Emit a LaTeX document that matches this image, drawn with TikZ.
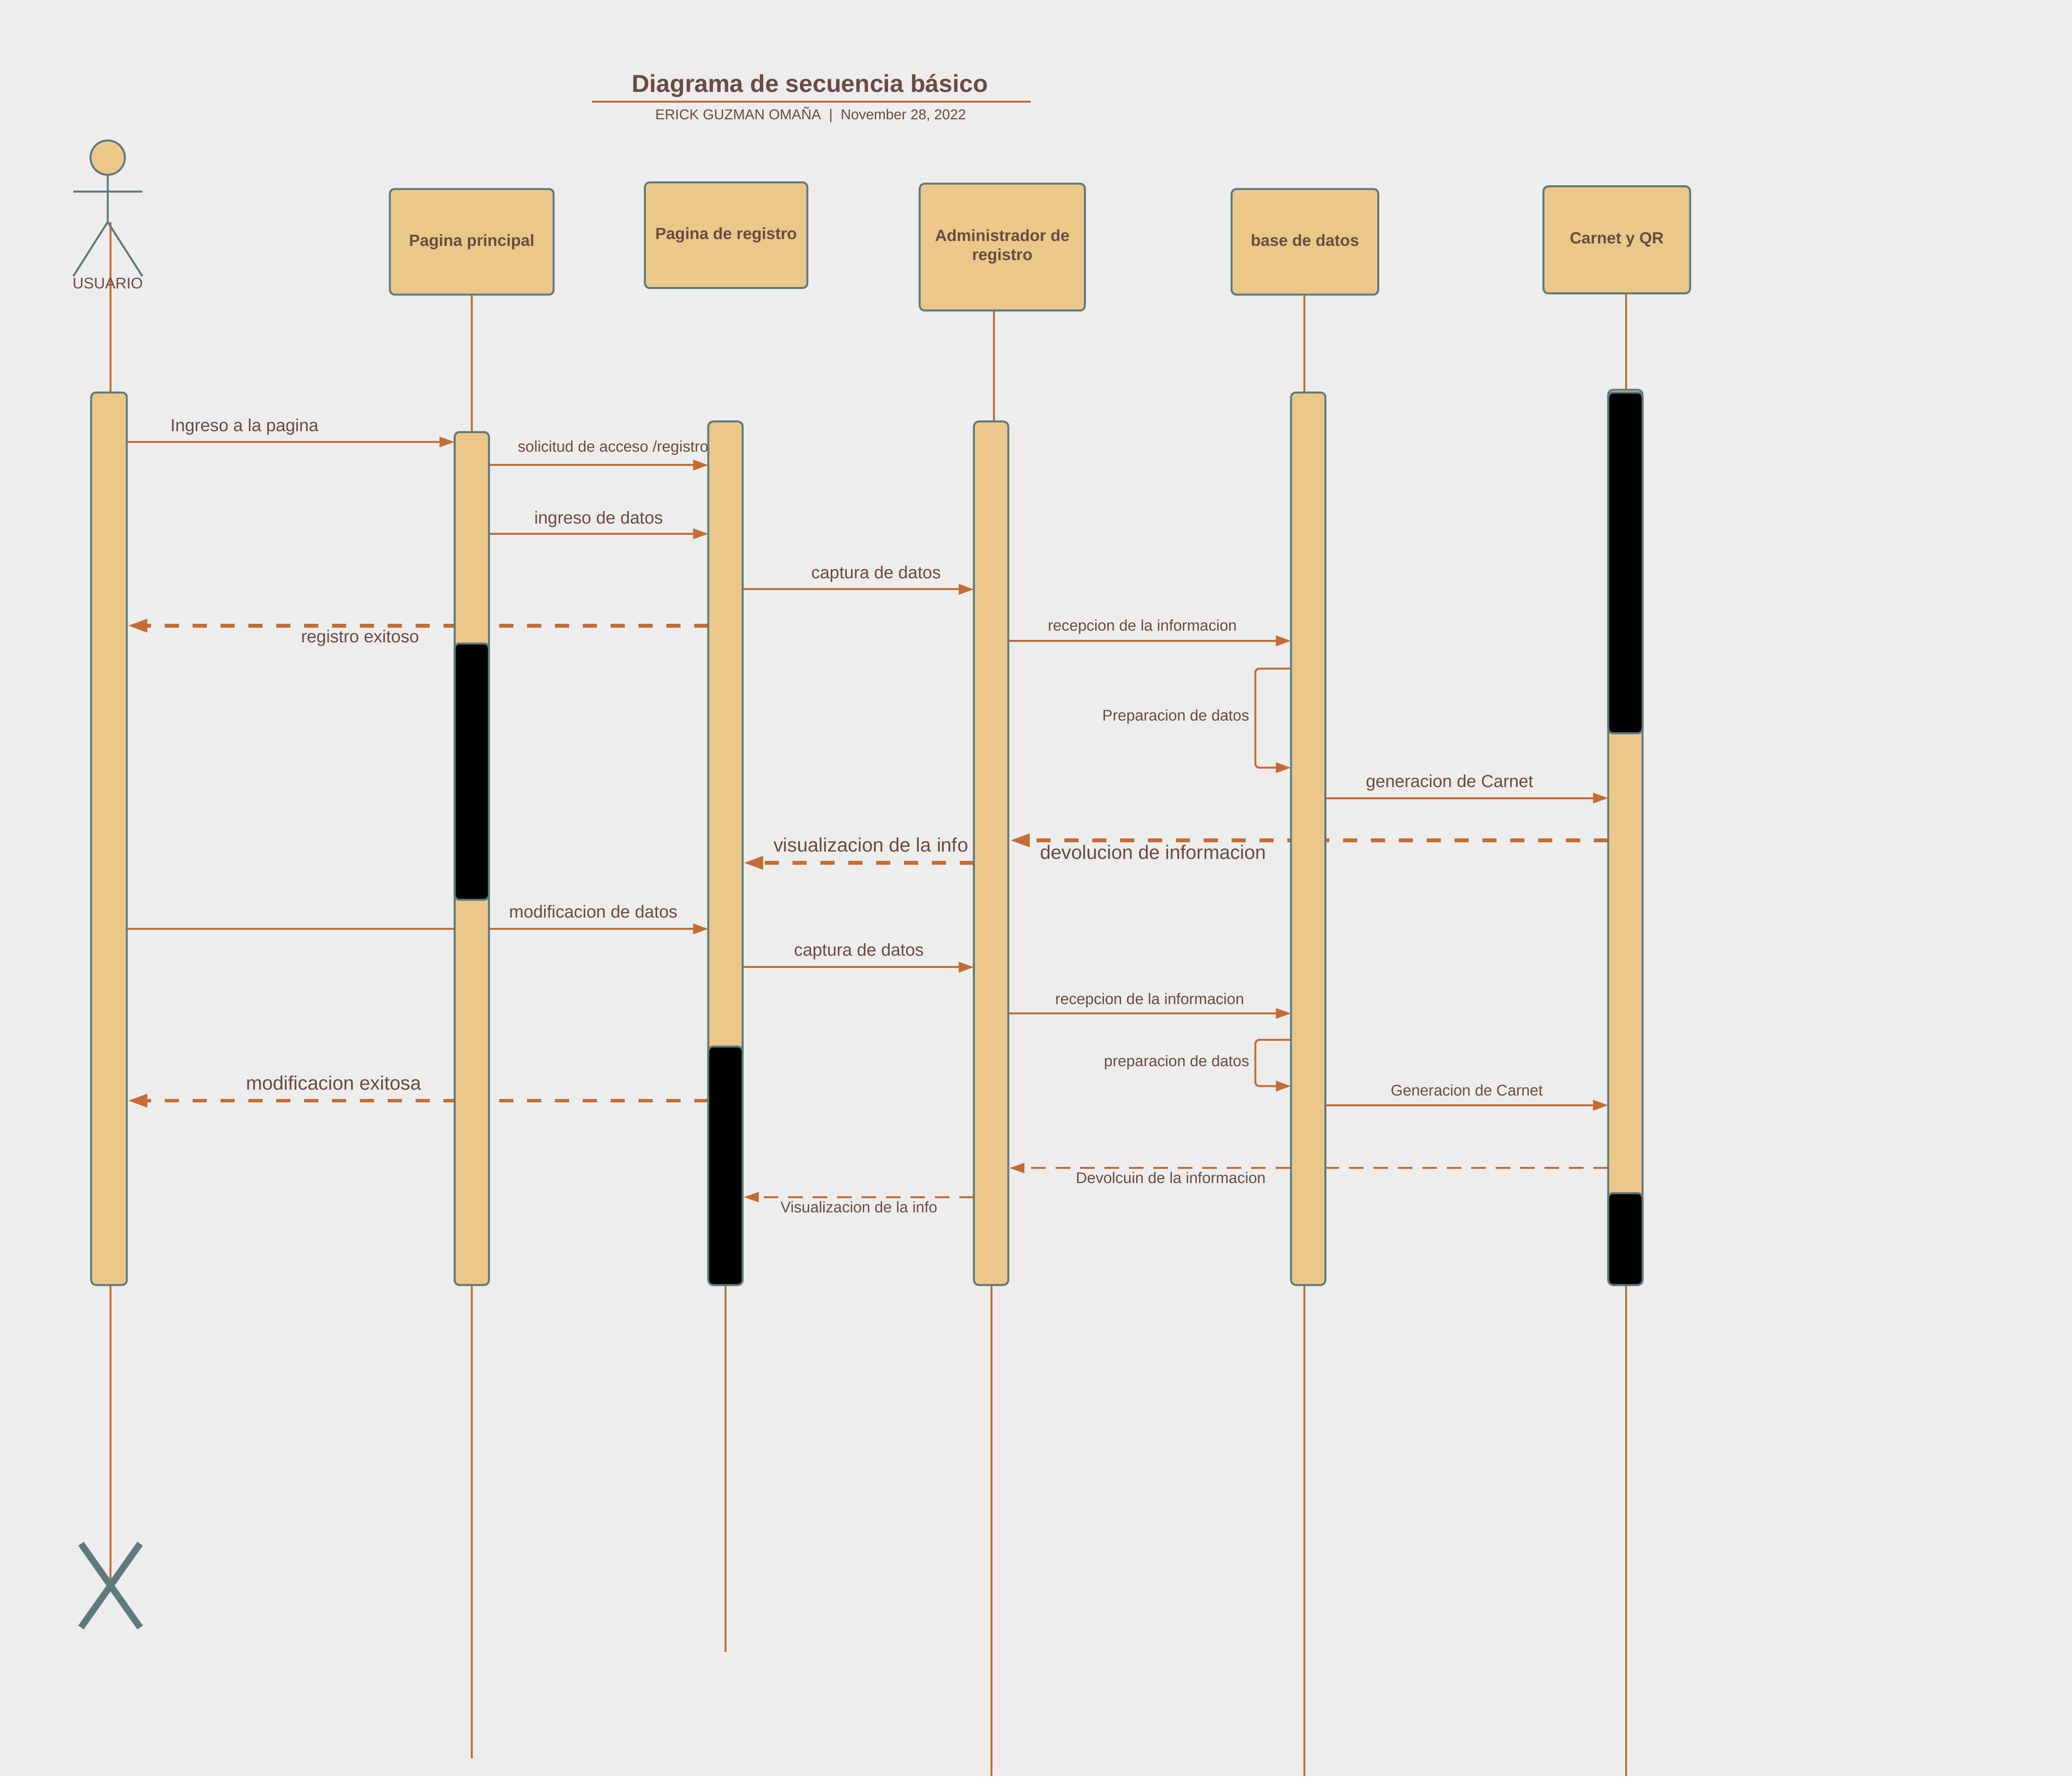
\documentclass[tikz,border=0pt]{standalone}
\usepackage{fontspec}
\setmainfont{Liberation Sans}
\usetikzlibrary{arrows.meta}
\definecolor{bgc}{HTML}{EDEDED}
\definecolor{tan}{HTML}{EBC88A}
\definecolor{slate}{HTML}{5F7A7D}
\definecolor{rust}{HTML}{C46C34}
\definecolor{ink}{HTML}{6B4A42}
\pgfdeclarelayer{back}\pgfdeclarelayer{edges}
\pgfsetlayers{back,edges,main}
\newdimen\uu \uu=1.3514pt
\tikzset{
  boxbase/.style={draw=slate,line width=2pt,rounded corners=5pt,inner sep=0pt,outer sep=0pt},
  objbox/.style={boxbase,fill=tan,text=ink,align=center,font=\fontsize{16.6}{19.5}\selectfont\bfseries},
  actbar/.style={boxbase,fill=tan},
  blackbar/.style={boxbase,fill=black},
  life/.style={draw=rust,line width=2pt},
  msg/.style={draw=rust,line width=2pt,-{Triangle[length=15.5pt,width=10.5pt,fill=rust]}},
  retthick/.style={draw=rust,line width=3.8pt,dash pattern=on 14.5pt off 14pt,-{Triangle[length=20pt,width=13pt,fill=rust]}},
  retthin/.style={draw=rust,line width=2pt,dash pattern=on 15pt off 10pt,-{Triangle[length=15.5pt,width=10pt,fill=rust]}},
  lblm/.style={text=ink,inner sep=0pt,font=\fontsize{17.8}{20}\selectfont},
  lbls/.style={text=ink,inner sep=0pt,font=\fontsize{15.8}{18}\selectfont},
  lblb/.style={text=ink,inner sep=0pt,font=\fontsize{19.9}{23}\selectfont},
}
\newcommand\mkbox[7]{\node[#1,minimum width={(#5-#3)*\uu},minimum height={(#6-#4)*\uu}] (#2) at ({(#3+#5)/2},{(#4+#6)/2}) {#7};}
\begin{document}
\begin{tikzpicture}[x=1.3514pt,y=-1.3514pt]
\begin{pgfonlayer}{back}
\path[use as bounding box,fill=bgc] (0,0) rectangle (1568,1344);
\end{pgfonlayer}

% title
\node[text=ink,inner sep=0pt,font=\fontsize{25}{28}\selectfont\bfseries] (title) at (613,65) {Diagrama de secuencia básico};
\coordinate (ruleL) at (448,77); \coordinate (ruleR) at (780,77);
\draw[life] (ruleL) -- (ruleR);
\node[text=ink,inner sep=0pt,font=\fontsize{14.6}{17}\selectfont] (sub) at (613.5,87) {ERICK GUZMAN OMAÑA\ \ |\ \ November 28, 2022};

% actor
\node[draw=slate,fill=tan,line width=2pt,circle,minimum width=26*\uu,inner sep=0pt,outer sep=0pt] (head) at (81.5,119.3) {};
\coordinate (hip) at (81.5,168);
\coordinate (armL) at (55.5,145); \coordinate (armR) at (107.7,145);
\coordinate (legL) at (55.5,209); \coordinate (legR) at (107.7,209);
\draw[slate,line width=2pt] (head.south) -- (hip) (armL) -- (armR) (legL) -- (hip) -- (legR);

% object boxes
\mkbox{objbox}{pp}{295}{143}{419}{223}{\raisebox{1.4pt}{Pagina principal}}
\mkbox{objbox}{pr}{488}{138}{611}{218}{\raisebox{1.4pt}{Pagina de registro}}
\mkbox{objbox}{ad}{696}{139}{821}{235}{\raisebox{1.4pt}{\begin{tabular}{@{}c@{}}Administrador de\\registro\end{tabular}}}
\mkbox{objbox}{bd}{932}{143}{1043}{223}{\raisebox{2.7pt}{base de datos}}
\mkbox{objbox}{cq}{1168}{141}{1279}{222}{\raisebox{1.4pt}{Carnet y QR}}

% activation bars
\mkbox{actbar}{A}{69}{297}{96}{972.5}{}
\mkbox{actbar}{B}{344}{327}{370}{972.5}{}
\mkbox{actbar}{C}{536}{319}{562}{972.5}{}
\mkbox{actbar}{D}{737}{319}{763}{972.5}{}
\mkbox{actbar}{E}{977}{297}{1003}{972.5}{}
\mkbox{actbar}{F}{1217}{295}{1243}{972.5}{}
\mkbox{blackbar}{Bk1}{344}{487}{370}{681}{}
\mkbox{blackbar}{Ck1}{536}{792}{562}{972.5}{}
\mkbox{blackbar}{Fk1}{1217}{297}{1243}{555}{}
\mkbox{blackbar}{Fk2}{1217}{903}{1243}{972.5}{}

% destroy mark and free ends
\coordinate (xTL) at (61.3,1168.3); \coordinate (xBR) at (106,1231.7);
\coordinate (xTR) at (106,1168.3); \coordinate (xBL) at (61.3,1231.7);
\coordinate (xC) at (83.6,1195);
\draw[slate,line width=6.8pt] (xTL) -- (xBR) (xTR) -- (xBL);

\coordinate (endB) at (357,1331);
\coordinate (endC) at (549,1250);
\coordinate (topD) at (752,235);
\coordinate (endD) at (750.5,1344);
\coordinate (endE) at (987,1344);
\coordinate (endF) at (1230.5,1344);

\begin{pgfonlayer}{edges}
% lifelines
\draw[life] (xC |- hip) -- (xC |- A.north);
\draw[life] (xC |- A.south) -- (xC);
\draw[life] (pp.south) -- (B.north);
\draw[life] (B.south) -- (endB);
\draw[life] (C.south) -- (endC);
\draw[life] (topD) -- (topD |- D.north);
\draw[life] (endD |- D.south) -- (endD);
\draw[life] (endE |- bd.south) -- (endE |- E.north);
\draw[life] (endE |- E.south) -- (endE);
\draw[life] (endF |- cq.south) -- (endF |- F.north);
\draw[life] (endF |- F.south) -- (endF);
% messages
\draw[msg] (A.east |- 0,334.5) -- (B.west |- 0,334.5);
\draw[msg] (B.east |- 0,352) -- (C.west |- 0,352);
\draw[msg] (B.east |- 0,404) -- (C.west |- 0,404);
\draw[msg] (C.east |- 0,446) -- (D.west |- 0,446);
\draw[retthick] (C.west |- 0,473.5) -- ([xshift=1pt]A.east |- 0,473.5);
\draw[msg] (D.east |- 0,485) -- (E.west |- 0,485);
\coordinate (s1a) at (950,506); \coordinate (s1b) at (950,581);
\draw[msg,rounded corners=4pt] (E.west |- s1a) -- (s1a) -- (s1b) -- (E.west |- s1b);
\draw[msg] (E.east |- 0,604) -- (F.west |- 0,604);
\draw[retthick] (F.west |- 0,636) -- ([xshift=2pt]D.east |- 0,636);
\draw[retthick] (D.west |- 0,653) -- ([xshift=1pt]C.east |- 0,653);
\draw[msg] (A.east |- 0,703) -- (C.west |- 0,703);
\draw[msg] (C.east |- 0,732) -- (D.west |- 0,732);
\draw[msg] (D.east |- 0,767) -- (E.west |- 0,767);
\coordinate (s2a) at (950,787); \coordinate (s2b) at (950,822);
\draw[msg,rounded corners=4pt] (E.west |- s2a) -- (s2a) -- (s2b) -- (E.west |- s2b);
\draw[msg] (E.east |- 0,836.5) -- (F.west |- 0,836.5);
\draw[retthick] (C.west |- 0,833) -- ([xshift=1pt]A.east |- 0,833);
\draw[retthin] (F.west |- 0,884) -- ([xshift=1pt]D.east |- 0,884);
\draw[retthin] (D.west |- 0,906) -- ([xshift=1pt]C.east |- 0,906);
\end{pgfonlayer}

% labels
\node[lbls] (lus) at (81.5,214.5) {USUARIO};
\node[lblm] (l1) at (185,323) {Ingreso a la pagina};
\node[lbls] (l2) at (464,339) {solicitud de acceso /registro};
\node[lblm] (l3) at (453,393) {ingreso de datos};
\node[lblm] (l4) at (663,434.5) {captura de datos};
\node[lblm] (l5) at (272.5,483) {registro exitoso};
\node[lbls] (l6) at (864.5,474.5) {recepcion de la informacion};
\node[lbls,anchor=east] (l7) at (945.5,542.5) {Preparacion de datos};
\node[lblm] (l8) at (1097,592.5) {generacion de Carnet};
\node[lblb] (l9) at (872.5,645) {devolucion de informacion};
\node[lblb] (l10) at (659,639.5) {visualizacion de la info};
\node[lblm] (l11) at (449,690) {modificacion de datos};
\node[lblm] (l12) at (650,720) {captura de datos};
\node[lbls] (l13) at (870,757) {recepcion de la informacion};
\node[lbls,anchor=east] (l14) at (945.5,804) {preparacion de datos};
\node[lbls] (l15) at (1110,825) {Generacion de Carnet};
\node[lblb] (l16) at (252.5,819.5) {modificacion exitosa};
\node[lbls] (l17) at (886,891.5) {Devolcuin de la informacion};
\node[lbls] (l18) at (650,913.5) {Visualizacion de la info};
\end{tikzpicture}
\end{document}
